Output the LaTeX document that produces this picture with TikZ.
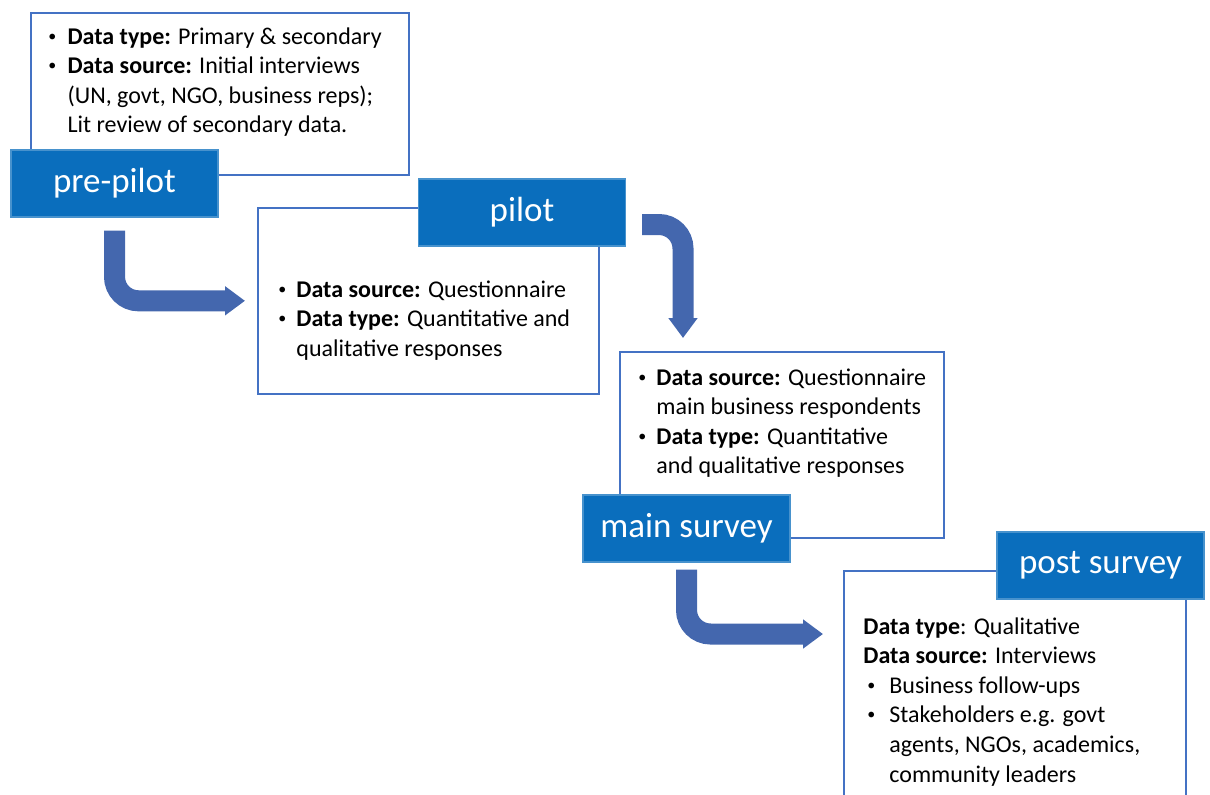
\documentclass[tikz,border=0pt]{standalone}
\usepackage{fontspec}
\setmainfont{Carlito}
\usepackage{tikz}
\usetikzlibrary{arrows.meta,positioning,calc}
\definecolor{labelblue}{HTML}{0A6EBD}
\definecolor{boxline}{HTML}{4472C4}
\definecolor{arrowblue}{HTML}{4467AE}
\newcommand{\bul}[1][0.8em]{\makebox[#1][l]{\raisebox{0.12em}{\fontsize{8}{8}\selectfont\textbullet}}}
\newcommand{\ind}[1][0.8em]{\hspace*{#1}}
\tikzset{
  infobox/.style={draw=boxline, line width=0.8pt, fill=white, anchor=north west, inner sep=0pt},
  stage/.style={fill=labelblue, draw=labelblue!75!white, line width=0.6pt, text=white,
                font=\fontsize{17.5}{21}\selectfont, minimum width=103.5pt, minimum height=33.5pt, inner sep=0pt},
  bodytext/.style={anchor=north west, align=left, inner sep=0pt, font=\fontsize{12}{14.8}\selectfont},
  bendarrow/.style={draw=arrowblue, line width=10.5pt, rounded corners=12pt,
                    -{Triangle[length=10pt,width=14pt]}}
}

\begin{document}
\begin{tikzpicture}[x=0.5pt, y=-0.5pt]
  \clip (0,0) rectangle (1210,794);
  % text boxes
  \node[infobox, minimum width=189pt, minimum height=81pt] (prepilotbox) at (30,12) {};
  \node[infobox, minimum width=170.5pt, minimum height=93pt] (pilotbox) at (257,207) {};
  \node[infobox, minimum width=162pt, minimum height=93pt] (mainbox) at (619,351) {};
  \node[infobox, minimum width=171pt, minimum height=125pt] (postbox) at (843,570) {};

  \node[bodytext] (prepilottext) at ([shift={(18,15)}]prepilotbox.north west) {%
    \bul\textbf{Data type:} Primary \& secondary\\
    \bul\textbf{Data source:} Initial interviews\\
    \ind(UN, govt, NGO, business reps);\\
    \ind Lit review of secondary data.};
  \node[bodytext] (pilottext) at ([shift={(21,73)}]pilotbox.north west) {%
    \bul[0.75em]\textbf{Data source:} Questionnaire\\
    \bul[0.75em]\textbf{Data type:} Quantitative and\\
    \ind[0.75em]qualitative responses};
  \node[bodytext] (maintext) at ([shift={(19,17)}]mainbox.north west) {%
    \bul[0.75em]\textbf{Data source:} Questionnaire\\
    \ind[0.75em]main business respondents\\
    \bul[0.75em]\textbf{Data type:} Quantitative\\
    \ind[0.75em]and qualitative responses};
  \node[bodytext] (posttext) at ([shift={(20,47)}]postbox.north west) {%
    \textbf{Data type}: Qualitative\\
    \textbf{Data source:} Interviews\\
    \hspace*{2pt}\bul[11pt]Business follow-ups\\
    \hspace*{2pt}\bul[11pt]Stakeholders e.g. govt\\
    \ind[13pt]agents, NGOs, academics,\\
    \ind[13pt]community leaders};

  % stage labels
  \node[stage] (prepilot) at (114.5,183.5) {pre-pilot};
  \node[stage] (pilot) at (522,212.5) {pilot};
  \node[stage] (mainsurvey) at (686.5,528.5) {main survey};
  \node[stage] (postsurvey) at (1100.5,565.5) {post survey};

  % bent arrows
  \draw[bendarrow, shorten <=6.5pt, shorten >=6pt] (prepilot.south) |- (pilotbox.west);
  \draw[bendarrow, shorten <=8pt, shorten >=6.5pt]
    ([yshift=-6pt]pilot.east) -| ([xshift=32pt]mainbox.north west);
  \draw[bendarrow, shorten <=3.5pt, shorten >=10pt]
    (mainsurvey.south) |- ([yshift=-32pt]postbox.north west);
\end{tikzpicture}
\end{document}
